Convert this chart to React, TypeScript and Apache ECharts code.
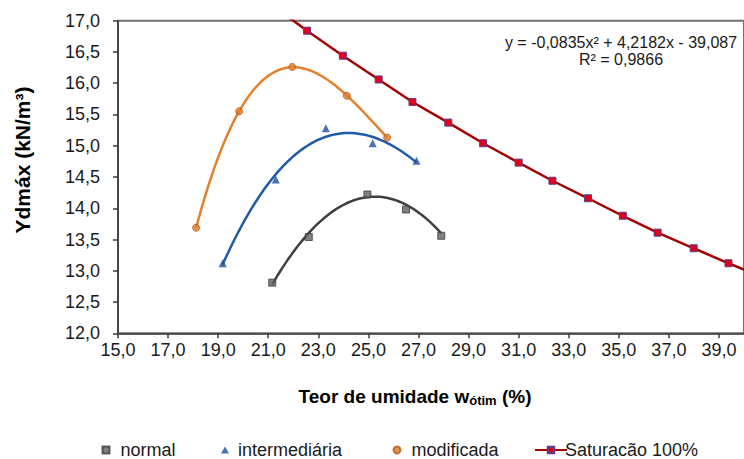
import React, { useEffect, useRef } from "react";
import * as echarts from "echarts";

// Compaction results: optimum moisture content (%) vs. maximum dry unit weight (kN/m³)
const normalW = [21.16, 22.62, 24.96, 26.5, 27.91];
const normalG = [12.81, 13.54, 14.22, 13.98, 13.56];

const interW = [19.18, 21.3, 23.3, 25.17, 26.92];
const interG = [13.12, 14.46, 15.28, 15.04, 14.76];

const modW = [18.12, 19.84, 21.96, 24.14, 25.75];
const modG = [13.69, 15.55, 16.26, 15.8, 15.13];

// Saturation (100%) curve; the first and last points lie just outside the plotted range
const satW = [21.15, 22.55, 23.98, 25.41, 26.76, 28.19, 29.58, 31.0, 32.35, 33.77, 35.16, 36.55, 37.99, 39.38, 40.78];
const satG = [17.25, 16.84, 16.44, 16.06, 15.7, 15.37, 15.04, 14.73, 14.44, 14.16, 13.88, 13.61, 13.36, 13.12, 12.89];

// Polynomial trendline of the "normal" series (as printed on the chart)
const normalTrendCoef = [-0.0835, 4.2182, -39.087];
const normalTrendR2 = 0.9866;

// Polynomial order of the least-squares trendlines of the other two series
const interTrendOrder = 3;
const modTrendOrder = 3;

const FONT = '"Liberation Sans", Arial, sans-serif';

const fmt = (v: number) => v.toFixed(1).replace(".", ",");
const fmtCoef = (v: number, d: number) => Math.abs(v).toFixed(d).replace(".", ",");
const zip = (a: number[], b: number[]) => a.map((v, i) => [v, b[i]]);

// Least-squares polynomial fit on centred x; returns an evaluator
function polyfit(xs: number[], ys: number[], order: number) {
  const m = xs.reduce((s, v) => s + v, 0) / xs.length;
  const n = order + 1;
  const A: number[][] = Array.from({ length: n }, () => new Array(n + 1).fill(0));
  xs.forEach((x0, k) => {
    const x = x0 - m;
    for (let i = 0; i < n; i++) {
      for (let j = 0; j < n; j++) A[i][j] += Math.pow(x, i + j);
      A[i][n] += Math.pow(x, i) * ys[k];
    }
  });
  for (let i = 0; i < n; i++) {
    let p = i;
    for (let r = i + 1; r < n; r++) if (Math.abs(A[r][i]) > Math.abs(A[p][i])) p = r;
    [A[i], A[p]] = [A[p], A[i]];
    for (let r = 0; r < n; r++) {
      if (r === i) continue;
      const f = A[r][i] / A[i][i];
      for (let c = i; c <= n; c++) A[r][c] -= f * A[i][c];
    }
  }
  const coef = A.map((row, i) => row[n] / row[i]);
  return (x0: number) => coef.reduce((s, c, i) => s + c * Math.pow(x0 - m, i), 0);
}

function sampleCurve(f: (x: number) => number, w0: number, w1: number, n = 60): number[][] {
  const pts: number[][] = [];
  for (let i = 0; i <= n; i++) {
    const w = w0 + ((w1 - w0) * i) / n;
    pts.push([w, f(w)]);
  }
  return pts;
}

const first = (a: number[]) => a[0];
const last = (a: number[]) => a[a.length - 1];

export default function App() {
  const ref = useRef<HTMLDivElement>(null);

  useEffect(() => {
    if (!ref.current) return;
    const chart = echarts.init(ref.current, undefined, { renderer: "svg" });
    const [a, b, c] = normalTrendCoef;
    const normalF = (w: number) => a * w * w + b * w + c;
    const interF = polyfit(interW, interG, interTrendOrder);
    const modF = polyfit(modW, modG, modTrendOrder);

    const eqText = `y = ${a < 0 ? "-" : ""}${fmtCoef(a, 4)}x² ${b < 0 ? "-" : "+"} ${fmtCoef(b, 4)}x ${
      c < 0 ? "-" : "+"
    } ${fmtCoef(c, 3)}`;
    const r2Text = `R² = ${normalTrendR2.toFixed(4).replace(".", ",")}`;

    const axisColor = "#3a3a3a";
    const legendText = { fontSize: 18, color: "#1a1a1a", fontFamily: FONT };
    const legendTop = 436;

    chart.setOption({
      animation: false,
      textStyle: { fontFamily: FONT },
      grid: {
        left: 118,
        top: 20.7,
        right: -4,
        bottom: 125.7,
        show: true,
        borderColor: "#707070",
        borderWidth: 2,
      },
      xAxis: {
        type: "value",
        min: 15,
        max: 40,
        interval: 2,
        axisLine: { show: true, onZero: false, lineStyle: { color: axisColor, width: 1.5 } },
        axisTick: { show: true, length: 5, lineStyle: { color: axisColor, width: 1.5 } },
        axisLabel: {
          fontSize: 18,
          color: "#1a1a1a",
          fontFamily: FONT,
          margin: 8,
          showMaxLabel: false,
          formatter: (v: number) => (v >= 40 ? "" : fmt(v)),
        },
        splitLine: { show: false },
      },
      yAxis: {
        type: "value",
        min: 12,
        max: 17,
        interval: 0.5,
        axisLine: { show: true, onZero: false, lineStyle: { color: axisColor, width: 1.5 } },
        axisTick: { show: true, length: 5, lineStyle: { color: axisColor, width: 1.5 } },
        axisLabel: { fontSize: 18, color: "#1a1a1a", fontFamily: FONT, margin: 18, formatter: (v: number) => fmt(v) },
        splitLine: { show: false },
      },
      legend: [
        {
          data: ["normal"],
          left: 96.5,
          top: legendTop,
          itemWidth: 7,
          itemHeight: 7,
          textStyle: { ...legendText, padding: [0, 0, 0, 6] },
        },
        {
          data: ["intermediária"],
          left: 216,
          top: legendTop,
          itemWidth: 8,
          itemHeight: 7,
          textStyle: { ...legendText, padding: [0, 0, 0, 4] },
        },
        {
          data: ["modificada"],
          left: 387.5,
          top: legendTop,
          itemWidth: 7,
          itemHeight: 7,
          textStyle: { ...legendText, padding: [0, 0, 0, 6] },
        },
        {
          data: ["Saturacão 100%"],
          left: 529,
          top: legendTop,
          itemWidth: 32,
          itemHeight: 8,
          textStyle: { ...legendText, padding: [0, 0, 0, -7] },
        },
      ],
      graphic: [
        {
          type: "text",
          x: 22,
          y: 160,
          rotation: Math.PI / 2,
          style: {
            text: "Ydmáx (kN/m³)",
            fill: "#000",
            fontSize: 21,
            fontWeight: "bold",
            fontFamily: FONT,
            align: "center",
            verticalAlign: "middle",
          },
        },
        {
          type: "text",
          x: 415,
          y: 396,
          style: {
            text: "Teor de umidade w{sub|ótim} (%)",
            fill: "#000",
            fontSize: 19,
            fontWeight: "bold",
            fontFamily: FONT,
            align: "center",
            verticalAlign: "middle",
            rich: {
              sub: {
                fontSize: 13,
                fontWeight: "bold",
                fontFamily: FONT,
                fill: "#000",
                verticalAlign: "bottom",
                padding: [8, 0, 0, 0],
              },
            },
          },
        },
        {
          type: "text",
          x: 621,
          y: 42,
          style: { text: eqText, fill: "#1a1a1a", fontSize: 16, fontFamily: FONT, align: "center", verticalAlign: "middle" },
        },
        {
          type: "text",
          x: 621,
          y: 59,
          style: { text: r2Text, fill: "#1a1a1a", fontSize: 16, fontFamily: FONT, align: "center", verticalAlign: "middle" },
        },
      ],
      series: [
        {
          type: "line",
          data: sampleCurve(normalF, first(normalW), last(normalW)),
          showSymbol: false,
          silent: true,
          lineStyle: { color: "#3f3f3f", width: 2.5 },
          z: 2,
        },
        {
          type: "line",
          data: sampleCurve(interF, first(interW), last(interW)),
          showSymbol: false,
          silent: true,
          lineStyle: { color: "#1f5ba8", width: 2.5 },
          z: 2,
        },
        {
          type: "line",
          data: sampleCurve(modF, first(modW), last(modW)),
          showSymbol: false,
          silent: true,
          lineStyle: { color: "#e3812c", width: 2.5 },
          z: 2,
        },
        {
          name: "normal",
          type: "scatter",
          data: zip(normalW, normalG),
          symbol: "rect",
          symbolSize: 7,
          itemStyle: { color: "#606060", borderColor: "#3c3c3c", borderWidth: 1 },
          z: 3,
        },
        {
          name: "intermediária",
          type: "scatter",
          data: zip(interW, interG),
          symbol: "triangle",
          symbolSize: 8,
          itemStyle: { color: "#1d4f96" },
          z: 3,
        },
        {
          name: "modificada",
          type: "scatter",
          data: zip(modW, modG),
          symbol: "circle",
          symbolSize: 7,
          itemStyle: { color: "#e07a28", borderColor: "#b85614", borderWidth: 1 },
          z: 3,
        },
        {
          name: "Saturacão 100%",
          type: "line",
          data: zip(satW, satG),
          symbol: "rect",
          symbolSize: 7,
          showAllSymbol: true,
          clip: true,
          lineStyle: { color: "#a50000", width: 2.5 },
          itemStyle: { color: "#e0001a", borderColor: "#5a3f8f", borderWidth: 1 },
          z: 4,
        },
      ],
    });
    return () => chart.dispose();
  }, []);

  return <div ref={ref} style={{ position: "absolute", left: 0, top: 0, width: 744, height: 459 }} />;
}
